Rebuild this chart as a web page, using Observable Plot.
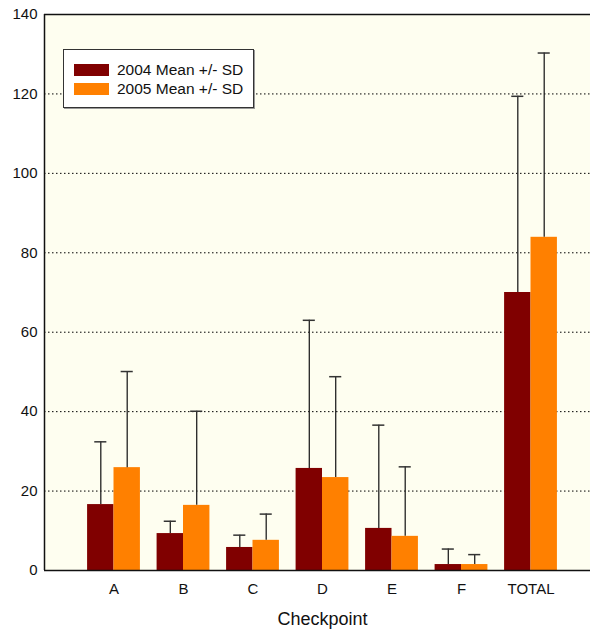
<!DOCTYPE html>
<html>
<head>
<meta charset="utf-8">
<script src="https://cdn.jsdelivr.net/npm/d3@7"></script>
<script src="https://cdn.jsdelivr.net/npm/@observablehq/plot@0.6"></script>
<style>
  html, body { margin: 0; padding: 0; background: #ffffff; }
  #wrap { position: relative; width: 590px; height: 630px; font-family: "Liberation Sans", Arial, sans-serif; }
  #legend {
    position: absolute; left: 63px; top: 49px; width: 191px; height: 59px;
    background: #ffffff; border: 1px solid #333; box-shadow: 1px 1px 0 #999;
    box-sizing: border-box;
  }
  .li { position: absolute; left: 10px; height: 14px; display: flex; align-items: center; }
  .sw { width: 35px; height: 12px; margin-right: 8px; }
  .lt { font-size: 15.5px; color: #111; white-space: nowrap; }
</style>
</head>
<body>
<div id="wrap"></div>
<script>
const categories = ["A", "B", "C", "D", "E", "F", "TOTAL"];
const mean2004 = [16.6, 9.3, 5.8, 25.7, 10.6, 1.5, 70.0];
const sd2004   = [15.8, 3.1, 3.1, 37.3, 26.0, 3.9, 49.4];
const mean2005 = [25.9, 16.4, 7.6, 23.4, 8.6, 1.5, 83.9];
const sd2005   = [24.2, 23.7, 6.6, 25.4, 17.5, 2.5, 46.4];
const seriesNames = ["2004 Mean +/- SD", "2005 Mean +/- SD"];
const seriesColors = ["#800000", "#FF8000"];
const yTicks = [0, 20, 40, 60, 80, 100, 120, 140];
const gridTicks = [20, 40, 60, 80, 100, 120];
const xLabel = "Checkpoint";

const barW = 0.38;
const capHalf = 0.087;

const rows = [];
categories.forEach((c, i) => {
  const pos = i + 1;
  rows.push({cat: c, pos, s: 0, x1: pos - barW, x2: pos, xc: pos - barW / 2, mean: mean2004[i], top: mean2004[i] + sd2004[i]});
  rows.push({cat: c, pos, s: 1, x1: pos, x2: pos + barW, xc: pos + barW / 2, mean: mean2005[i], top: mean2005[i] + sd2005[i]});
});
const positions = categories.map((c, i) => i + 1);
const midPos = d3.mean(positions);

const chart = Plot.plot({
  width: 590,
  height: 630,
  marginLeft: 44,
  marginRight: 0,
  marginTop: 14,
  marginBottom: 60,
  style: {fontFamily: "'Liberation Sans', Arial, sans-serif", background: "transparent", color: "#111"},
  x: {type: "linear", domain: [0, 7.856], axis: null},
  y: {domain: [0, 140], axis: null},
  marks: [
    Plot.frame({fill: "#FEFEF0", stroke: "none"}),
    Plot.ruleY(gridTicks, {stroke: "#000", strokeWidth: 1, strokeDasharray: "1.5,2.5"}),
    Plot.rectY(rows, {x1: "x1", x2: "x2", y1: 0, y2: "mean", fill: d => seriesColors[d.s]}),
    Plot.ruleX(rows, {x: "xc", y1: "mean", y2: "top", stroke: "#222", strokeWidth: 1.3}),
    Plot.ruleY(rows, {y: "top", x1: d => d.xc - capHalf, x2: d => d.xc + capHalf, stroke: "#333", strokeWidth: 1.5}),
    Plot.ruleY([0, 140], {stroke: "#111", strokeWidth: 1.5}),
    Plot.ruleX([0], {stroke: "#111", strokeWidth: 1.5}),
    Plot.axisY({ticks: yTicks, tickSize: 0, tickPadding: 7, fontSize: 15, label: null}),
    Plot.axisX({ticks: positions, tickFormat: d => categories[d - 1], tickSize: 0, tickPadding: 13, fontSize: 15, label: null}),
    Plot.text([xLabel], {x: midPos, frameAnchor: "bottom", dy: 49, lineAnchor: "middle", textAnchor: "middle", fontSize: 18, fill: "#111"})
  ]
});

const wrap = document.getElementById("wrap");
wrap.appendChild(chart);

const legend = document.createElement("div");
legend.id = "legend";
seriesNames.forEach((name, i) => {
  const item = document.createElement("div");
  item.className = "li";
  item.style.top = (13 + i * 19) + "px";
  const sw = document.createElement("div");
  sw.className = "sw";
  sw.style.background = seriesColors[i];
  const t = document.createElement("span");
  t.className = "lt";
  t.textContent = name;
  item.appendChild(sw);
  item.appendChild(t);
  legend.appendChild(item);
});
wrap.appendChild(legend);
</script>
</body>
</html>
